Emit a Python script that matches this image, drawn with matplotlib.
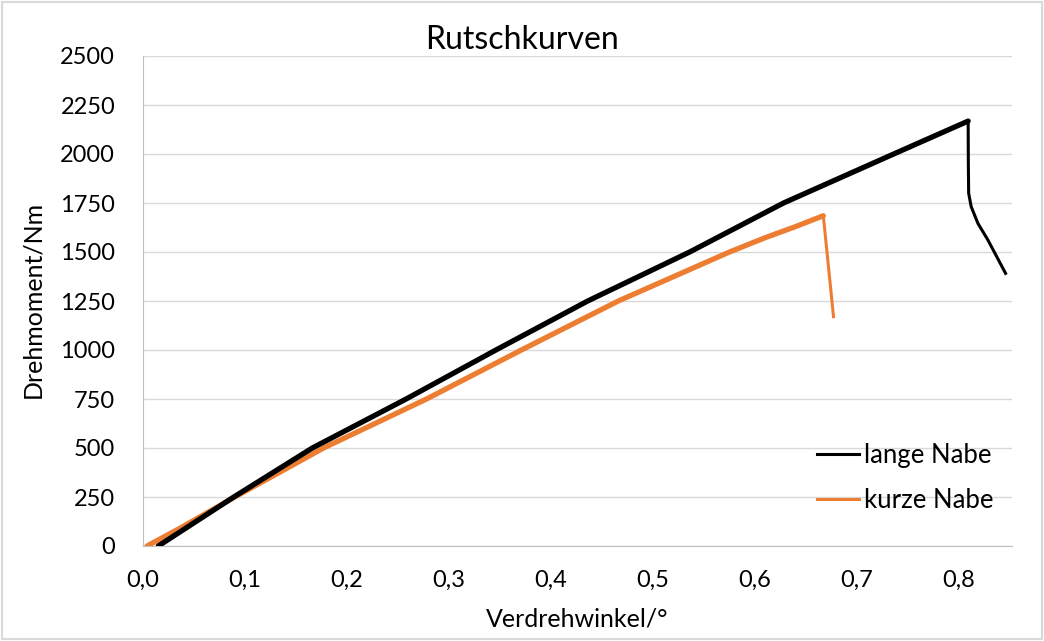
import matplotlib
matplotlib.use("Agg")
import matplotlib.pyplot as plt
from matplotlib.ticker import FuncFormatter, MultipleLocator
from matplotlib.patches import Rectangle

# lange Nabe: rising part and drop after slipping
lang_x = [0.015, 0.089, 0.166, 0.258, 0.346, 0.436, 0.536, 0.628, 0.736, 0.809]
lang_y = [0, 250, 500, 750, 1000, 1250, 1500, 1750, 2000, 2168]
lang_drop_x = [0.809, 0.8092, 0.8095, 0.812, 0.8186, 0.8284, 0.8457]
lang_drop_y = [2168, 1950, 1800, 1731, 1646, 1561, 1391]

# kurze Nabe
kurz_x = [0.004, 0.036, 0.090, 0.177, 0.278, 0.371, 0.466, 0.575, 0.610, 0.640, 0.667]
kurz_y = [0, 90, 250, 500, 750, 1000, 1250, 1500, 1573, 1630, 1685]
kurz_drop_x = [0.667, 0.677]
kurz_drop_y = [1685, 1170]

plt.rcParams['font.family'] = ['Lato', 'DejaVu Sans']

W, H = 1044, 641
fig = plt.figure(figsize=(W / 100, H / 100), dpi=100)
ax = fig.add_axes([143 / W, 1 - 546 / H, (1012 - 143) / W, (546 - 56) / H])

black = '#000000'
orange = '#ED7D31'

ax.plot(lang_x, lang_y, color=black, lw=3.8, solid_capstyle='round', zorder=3)
ax.plot(lang_drop_x, lang_drop_y, color=black, lw=2.2, zorder=3)
ax.plot(kurz_x, kurz_y, color=orange, lw=3.8, solid_capstyle='round', zorder=2)
ax.plot(kurz_drop_x, kurz_drop_y, color=orange, lw=2.2, zorder=2)

# legend handles
ax.plot([], [], color=black, lw=2.2, label='lange Nabe')
ax.plot([], [], color=orange, lw=2.2, label='kurze Nabe')
h, l = ax.get_legend_handles_labels()
ax.legend(h, l, loc='center left', bbox_to_anchor=(817 / W, 1 - 478 / H),
          bbox_transform=fig.transFigure, frameon=False, borderpad=0, borderaxespad=0,
          fontsize=18.5, handlelength=1.63, handletextpad=0.2, labelspacing=0.8)

ax.set_xlim(0, 0.852)
ax.set_ylim(0, 2500)
ax.xaxis.set_major_locator(MultipleLocator(0.1))
ax.yaxis.set_major_locator(MultipleLocator(250))
ax.xaxis.set_major_formatter(FuncFormatter(lambda v, p: '{:.1f}'.format(v).replace('.', ',')))
ax.grid(axis='y', color='#d9d9d9', lw=1)
ax.set_axisbelow(True)
for s in ['top', 'right']:
    ax.spines[s].set_visible(False)
for s in ['left', 'bottom']:
    ax.spines[s].set_color('#bfbfbf')
ax.tick_params(length=0, labelsize=17)
ax.tick_params(axis='y', pad=20)
ax.tick_params(axis='x', pad=17)

fig.text(522 / W, 1 - 40 / H, 'Rutschkurven', fontsize=23, ha='center', va='center')
fig.text(577 / W, 1 - 619 / H, 'Verdrehwinkel/°', fontsize=18, ha='center', va='center')
fig.text(33 / W, 1 - 299 / H, 'Drehmoment/Nm', fontsize=18, ha='center', va='center',
         rotation=90)

fig.patches.append(Rectangle((0.002, 0.003), 0.996, 0.994, transform=fig.transFigure,
                             fill=False, edgecolor='#d9d9d9', lw=1.5))

fig.savefig('out.png', dpi=100)
